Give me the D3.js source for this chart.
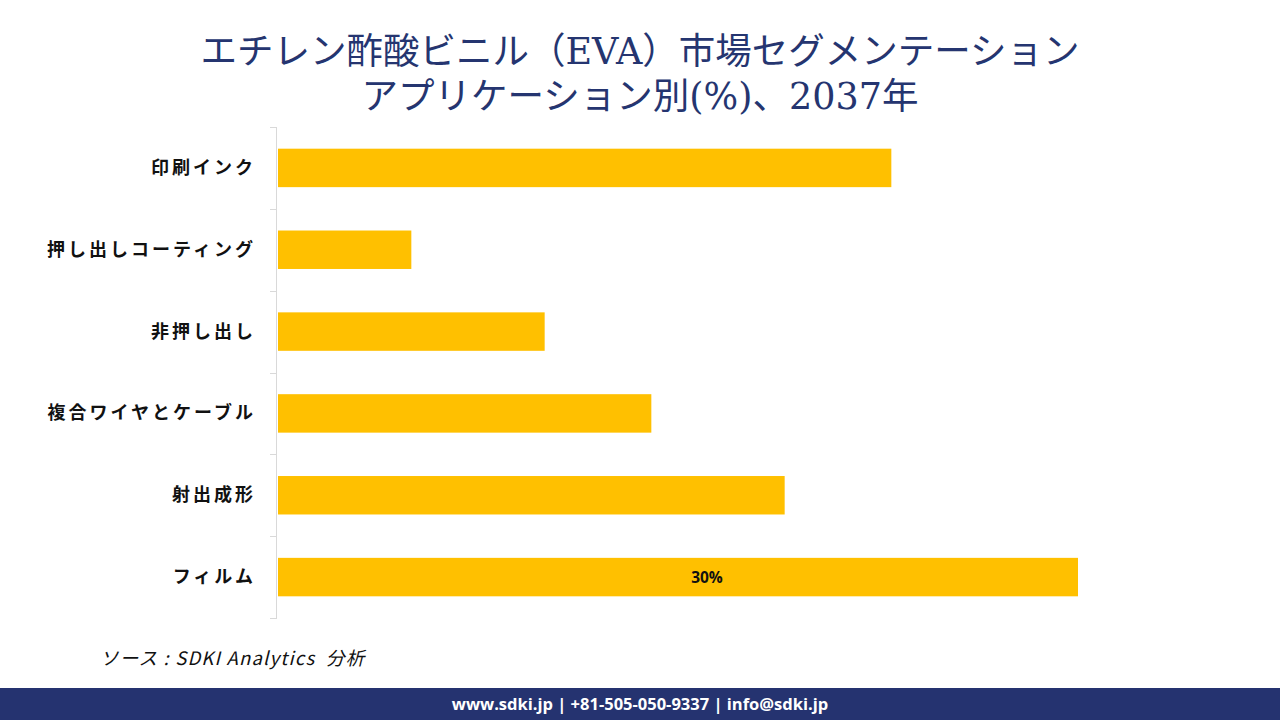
<!DOCTYPE html>
<html>
<head>
<meta charset="utf-8">
<style>
body{margin:0;background:#fff;font-family:"Noto Sans CJK JP","Noto Sans",sans-serif;}
.title{font-family:"DejaVu Serif","Liberation Serif","Noto Sans CJK JP",serif;fill:#253570;font-size:36.5px;}
.cat{font-size:18px;font-weight:bold;fill:#111;letter-spacing:3px;}
.axis path,.axis line{stroke:#d9d9d9;shape-rendering:crispEdges;}
</style>
</head>
<body>
<svg id="chart"></svg>
<script src="https://cdn.jsdelivr.net/npm/d3@7"></script>
<script>
var categories = ["印刷インク","押し出しコーティング","非押し出し","複合ワイヤとケーブル","射出成形","フィルム"];
var values = [23, 5, 10, 14, 19, 30];
var labels = ["","","","","","30%"];

var W = 1280, H = 720;
var margin = {top:127, left:277, bottom:102, right:202};

var svg = d3.select("#chart").attr("width", W).attr("height", H);

svg.append("text").attr("class","title").attr("x",640).attr("y",64).attr("text-anchor","middle")
  .text("エチレン酢酸ビニル（EVA）市場セグメンテーション");
svg.append("text").attr("class","title").attr("x",640).attr("y",109).attr("text-anchor","middle")
  .text("アプリケーション別(%)、2037年");

var y = d3.scaleBand().domain(categories).range([margin.top, H - margin.bottom]).paddingInner(0.53).paddingOuter(0.265);
var x = d3.scaleLinear().domain([0, 30]).range([margin.left + 1, 1078]);

svg.selectAll(".bar").data(categories).enter().append("rect")
  .attr("x", x(0))
  .attr("y", function(d){ return y(d); })
  .attr("width", function(d,i){ return x(values[i]) - x(0); })
  .attr("height", y.bandwidth())
  .attr("fill", "#FFC000");

svg.selectAll(".lbl").data(categories).enter().append("text")
  .attr("x", function(d,i){ return x(values[i]/2) + 29; })
  .attr("y", function(d){ return y(d) + y.bandwidth()/2 + 6; })
  .attr("text-anchor","middle")
  .style("font-family","'Open Sans','Noto Sans',sans-serif")
  .style("font-size","15.5px").style("font-weight","bold").attr("fill","#111")
  .text(function(d,i){ return labels[i]; });

// axis line with tick marks on band boundaries
var step = y.step();
var axis = svg.append("g").attr("class","axis");
axis.append("line").attr("x1",margin.left-0.5).attr("x2",margin.left-0.5)
  .attr("y1",margin.top).attr("y2",H - margin.bottom);
d3.range(categories.length + 1).forEach(function(i){
  var yy = Math.round(margin.top + i*step) + 0.5;
  axis.append("line").attr("x1",margin.left-7).attr("x2",margin.left).attr("y1",yy).attr("y2",yy);
});

svg.selectAll(".cat").data(categories).enter().append("text")
  .attr("class","cat")
  .attr("x", 256)
  .attr("y", function(d){ return y(d) + y.bandwidth()/2 + 6; })
  .attr("text-anchor","end")
  .text(function(d){ return d; });

svg.append("text").attr("x",100).attr("y",665)
  .style("font-style","italic").style("font-size","18.5px").style("letter-spacing","1.2px").attr("fill","#111")
  .attr("xml:space","preserve")
  .text("ソース : SDKI Analytics  分析");

svg.append("rect").attr("x",0).attr("y",688).attr("width",W).attr("height",32).attr("fill","#253370");
svg.append("text").attr("x",640).attr("y",710).attr("text-anchor","middle")
  .style("font-family","'Open Sans','Noto Sans',sans-serif")
  .style("font-size","16.5px").style("font-weight","bold").attr("fill","#fff")
  .text("www.sdki.jp | +81-505-050-9337 | info@sdki.jp");
</script>
</body>
</html>
